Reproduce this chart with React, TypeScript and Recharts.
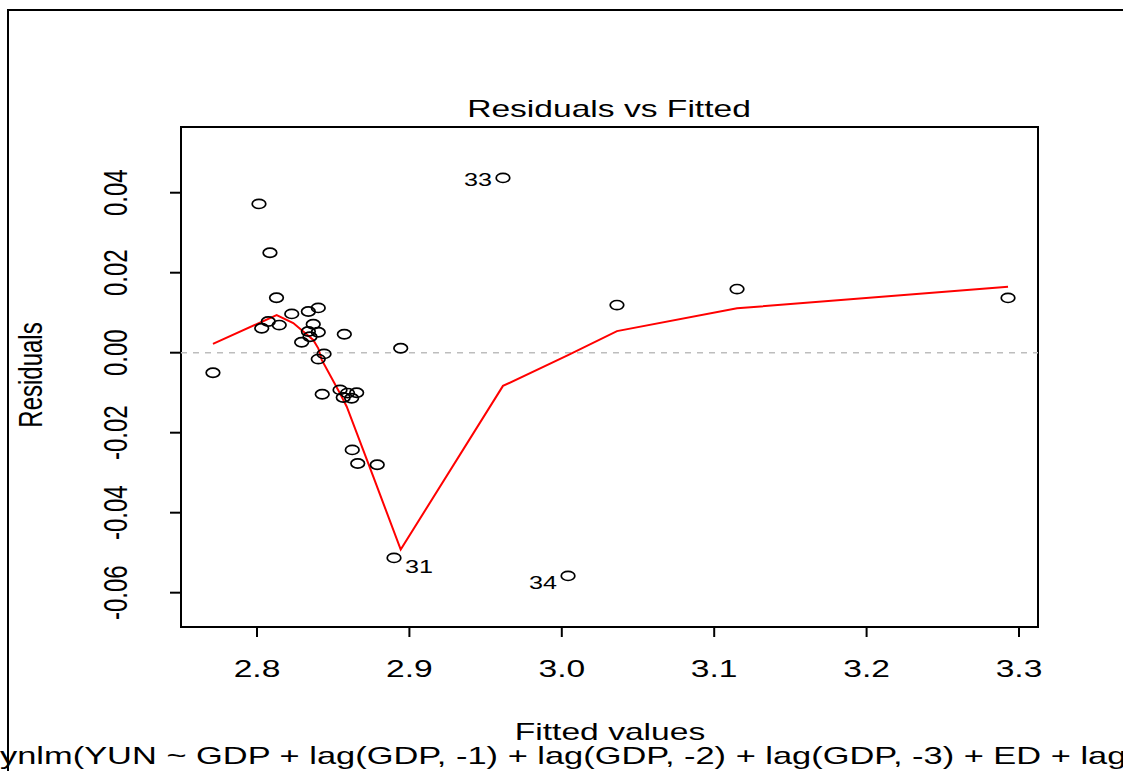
import React from 'react';
import { ComposedChart, Scatter, Line, XAxis, YAxis, ReferenceLine, ReferenceArea } from 'recharts';

// ---- data ----
const fitted = [
  2.7711, 2.8013, 2.8085, 2.8128, 2.8228, 2.8337, 2.8402, 2.8074, 2.8031, 2.8146,
  2.8369, 2.8337, 2.8402, 2.8293, 2.8348, 2.8573, 2.8440, 2.8402, 2.8943, 2.8428,
  2.8545, 2.8566, 2.8621, 2.8654, 2.8594, 2.8625, 2.8661, 2.8789, 2.8899, 2.9614,
  3.0041, 3.0362, 3.1150, 3.2928,
];
const residuals = [
  -0.0050, 0.0372, 0.0250, 0.01375, 0.0097, 0.0103, 0.0112, 0.0078, 0.0061, 0.0069,
  0.0071, 0.0053, 0.0051, 0.0026, 0.0040, 0.0046, -0.0003, -0.0016, 0.0011, -0.0104,
  -0.0093, -0.0112, -0.0114, -0.0100, -0.0101, -0.0243, -0.0277, -0.0280, -0.0513, 0.0437,
  -0.0558, 0.0119, 0.0159, 0.0137,
];
const obsIds = [
  '', '', '', '', '', '', '', '', '', '',
  '', '', '', '', '', '', '', '', '', '',
  '', '', '', '', '', '', '', '', '31', '33',
  '34', '', '', '',
];
const smoothFitted = [2.7711, 2.8129, 2.8238, 2.8369, 2.8402, 2.8425, 2.8545, 2.8589, 2.8763, 2.8943, 2.9614, 3.0041, 3.0362, 3.1150, 3.2928];
const smoothResiduals = [0.0022, 0.0094, 0.0074, 0.0032, 0.0011, -0.0018, -0.0102, -0.0135, -0.0310, -0.0492, -0.0083, -0.0006, 0.0054, 0.0111, 0.0165];

const xTicks = [2.8, 2.9, 3.0, 3.1, 3.2, 3.3];
const xTickLabels = ['2.8', '2.9', '3.0', '3.1', '3.2', '3.3'];
const yTicks = [-0.06, -0.04, -0.02, 0, 0.02, 0.04];
const yTickLabels = ['-0.06', '-0.04', '-0.02', '0.00', '0.02', '0.04'];

const titleText = 'Residuals vs Fitted';
const xLabelText = 'Fitted values';
const yLabelText = 'Residuals';
const subCaptionText = 'ynlm(YUN ~ GDP + lag(GDP, -1) + lag(GDP, -2) + lag(GDP, -3) + ED + lag';

// ---- styling ----
const FONT = '"Liberation Sans", Arial, sans-serif';
const SX = 1.4; // horizontal stretch of the original image
const FS = 24;
const XMIN = 2.75013;
const XMAX = 3.31247;
const YMIN = -0.06858;
const YMAX = 0.05643;

// label placement: side (+1 right, -1 left) and vertical offset of baseline
const labelStyle: Record<string, { side: number; dy: number }> = {
  '31': { side: 1, dy: 15 },
  '33': { side: -1, dy: 8 },
  '34': { side: -1, dy: 13 },
};

const points = fitted.map((f, i) => ({ fit: f, res: residuals[i], id: obsIds[i] }));
const smooth = smoothFitted.map((f, i) => ({ fit: f, res: smoothResiduals[i] }));

const findIdx = (arr: number[], v: number) => arr.findIndex((t) => Math.abs(t - v) < 1e-9);

const XTick = (props: any) => {
  const { x, payload } = props;
  const i = findIdx(xTicks, payload.value);
  return (
    <text transform={`translate(${x},677) scale(${SX},1)`} textAnchor="middle" fontSize={FS} fontFamily={FONT} fill="#000">
      {i >= 0 ? xTickLabels[i] : ''}
    </text>
  );
};

const YTick = (props: any) => {
  const { y, payload } = props;
  const i = findIdx(yTicks, payload.value);
  return (
    <text transform={`translate(127,${y}) scale(${SX},1) rotate(-90)`} textAnchor="middle" fontSize={FS} fontFamily={FONT} fill="#000">
      {i >= 0 ? yTickLabels[i] : ''}
    </text>
  );
};

const PointShape = (props: any) => {
  const { cx, cy, payload } = props;
  const id = payload?.id;
  const st = id ? labelStyle[id] : undefined;
  return (
    <g>
      <ellipse cx={cx} cy={cy} rx={6.8} ry={4.6} fill="none" stroke="#000" strokeWidth={1.7} />
      {id && st ? (
        <text
          transform={`translate(${cx + st.side * 11},${cy + st.dy}) scale(${SX},1)`}
          textAnchor={st.side > 0 ? 'start' : 'end'}
          fontSize={18}
          fontFamily={FONT}
          fill="#000"
        >
          {id}
        </text>
      ) : null}
    </g>
  );
};

export default function App() {
  return (
    <div style={{ position: 'absolute', left: 0, top: 0, width: 1123, height: 771, background: '#fff', overflow: 'hidden' }}>
      <div style={{ position: 'absolute', left: 7, top: 9, width: 1120, height: 770, borderTop: '2px solid #000', borderLeft: '2px solid #000' }} />
      <div style={{ position: 'absolute', left: 0, top: 0 }}>
        <ComposedChart width={1123} height={771} margin={{ top: 127, right: 85, bottom: 84, left: 101 }}>
          <XAxis
            type="number"
            dataKey="fit"
            domain={[XMIN, XMAX]}
            allowDataOverflow
            ticks={xTicks}
            interval={0}
            height={60}
            stroke="#000"
            axisLine={false}
            tickLine={{ stroke: '#000', strokeWidth: 2 }}
            tickSize={10}
            tick={<XTick />}
          />
          <YAxis
            type="number"
            domain={[YMIN, YMAX]}
            allowDataOverflow
            ticks={yTicks}
            interval={0}
            width={80}
            stroke="#000"
            axisLine={false}
            tickLine={{ stroke: '#000', strokeWidth: 2 }}
            tickSize={11}
            tick={<YTick />}
          />
          <ReferenceLine y={0} stroke="#bdbdbd" strokeWidth={1.5} strokeDasharray="6 6" ifOverflow="visible" />
          <Scatter data={points} dataKey="res" shape={<PointShape />} isAnimationActive={false} />
          <Line data={smooth} dataKey="res" type="linear" stroke="#ff0000" strokeWidth={2} dot={false} activeDot={false} isAnimationActive={false} />
          <ReferenceArea x1={XMIN} x2={XMAX} y1={YMIN} y2={YMAX} fill="none" fillOpacity={0} stroke="#000" strokeWidth={2} ifOverflow="visible" />
          <text transform={`translate(609,117) scale(${SX},1)`} textAnchor="middle" fontSize={FS} fontFamily={FONT} fill="#000">{titleText}</text>
          <text transform={`translate(610,740) scale(${SX},1)`} textAnchor="middle" fontSize={FS} fontFamily={FONT} fill="#000">{xLabelText}</text>
          <text transform={`translate(42,375) scale(${SX},1) rotate(-90)`} textAnchor="middle" fontSize={FS} fontFamily={FONT} fill="#000">{yLabelText}</text>
          <text transform={`translate(0,764) scale(1.435,1)`} textAnchor="start" fontSize={FS} fontFamily={FONT} fill="#000">{subCaptionText}</text>
        </ComposedChart>
      </div>
    </div>
  );
}
